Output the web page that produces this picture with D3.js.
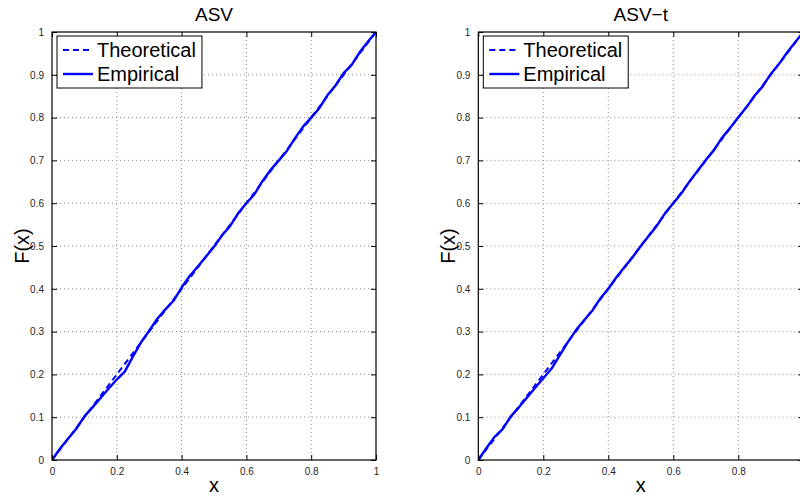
<!DOCTYPE html>
<html>
<head>
<meta charset="utf-8">
<script src="https://cdn.jsdelivr.net/npm/d3@7"></script>
<style>
  body { margin: 0; background: #fff; }
  svg { display: block; font-family: "Liberation Sans", Arial, sans-serif; }
</style>
</head>
<body>
<svg width="800" height="498"></svg>
<script>
// DATA

const X_TICKS = [0, 0.2, 0.4, 0.6, 0.8, 1];
const Y_TICKS = [0, 0.1, 0.2, 0.3, 0.4, 0.5, 0.6, 0.7, 0.8, 0.9, 1];
const LEGEND_LABELS = ["Theoretical", "Empirical"];

// theoretical CDF (dashed) sampled points
const THEO_X = [0, 0.1, 0.2, 0.3, 0.4, 0.5, 0.6, 0.7, 0.8, 0.9, 1];
const THEO_Y = [0, 0.1, 0.2, 0.3, 0.4, 0.5, 0.6, 0.7, 0.8, 0.9, 1];

// empirical CDF (solid)
const EMP_X = [0, 0.025, 0.05, 0.075, 0.1, 0.125, 0.15, 0.175, 0.2, 0.225, 0.25, 0.275, 0.3, 0.325,
    0.35, 0.375, 0.4, 0.425, 0.45, 0.475, 0.5, 0.525, 0.55, 0.575, 0.6, 0.625, 0.65, 0.675, 0.7,
    0.725, 0.75, 0.775, 0.8, 0.825, 0.85, 0.875, 0.9, 0.925, 0.95, 0.975, 1];
const ASV_EMP_Y = [0, 0.027, 0.05, 0.073, 0.102, 0.123, 0.145, 0.167, 0.188, 0.207, 0.242, 0.275, 0.302, 0.33,
    0.352, 0.372, 0.403, 0.43, 0.452, 0.475, 0.498, 0.525, 0.547, 0.577, 0.6, 0.621, 0.652, 0.678, 0.7,
    0.722, 0.752, 0.779, 0.8, 0.822, 0.852, 0.875, 0.904, 0.923, 0.953, 0.977, 1];
const ASVT_EMP_Y = [0, 0.028, 0.054, 0.072, 0.102, 0.123, 0.146, 0.169, 0.191, 0.213, 0.244, 0.275, 0.303, 0.326,
    0.348, 0.377, 0.4, 0.427, 0.451, 0.474, 0.5, 0.524, 0.548, 0.577, 0.6, 0.623, 0.651, 0.676, 0.701,
    0.724, 0.753, 0.776, 0.801, 0.824, 0.851, 0.873, 0.902, 0.925, 0.952, 0.976, 1];

const PANELS = [
    { title: "ASV", left: 52, right: 376, empY: ASV_EMP_Y },
    { title: "ASV\u2212t", left: 478.3, right: 803.3, empY: ASVT_EMP_Y }
];

const WIDTH = 800;
const TOP = 32;
const BOTTOM = 460;
const BLUE = "#0000ff";

const svg = d3.select("svg");

function pairs(xs, ys) {
    return xs.map((x, i) => [x, ys[i]]);
}

PANELS.forEach((panel, idx) => {
    const xScale = d3.scaleLinear().domain([0, 1]).range([panel.left, panel.right]);
    const yScale = d3.scaleLinear().domain([0, 1]).range([BOTTOM, TOP]);
    const g = svg.append("g");

    // clip for data lines
    const clipId = "clip" + idx;
    svg.append("clipPath").attr("id", clipId)
        .append("rect")
        .attr("x", panel.left).attr("y", TOP)
        .attr("width", panel.right - panel.left).attr("height", BOTTOM - TOP);

    // grid
    g.selectAll(".vgrid").data(X_TICKS.slice(1, -1)).enter().append("line")
        .attr("x1", d => xScale(d)).attr("x2", d => xScale(d))
        .attr("y1", TOP).attr("y2", BOTTOM)
        .style("stroke", "#8c8c8c").style("stroke-width", 1)
        .style("stroke-dasharray", "1,3");
    g.selectAll(".hgrid").data(Y_TICKS.slice(1, -1)).enter().append("line")
        .attr("x1", panel.left).attr("x2", panel.right)
        .attr("y1", d => yScale(d)).attr("y2", d => yScale(d))
        .style("stroke", "#8c8c8c").style("stroke-width", 1)
        .style("stroke-dasharray", "1,3");

    const line = d3.line().x(d => xScale(d[0])).y(d => yScale(d[1]));

    const lines = g.append("g").attr("clip-path", `url(#${clipId})`);
    lines.append("path")
        .attr("d", line(pairs(THEO_X, THEO_Y)))
        .style("fill", "none").style("stroke", BLUE)
        .style("stroke-width", 2).style("stroke-dasharray", "6,4");
    lines.append("path")
        .attr("d", line(pairs(EMP_X, panel.empY)))
        .style("fill", "none").style("stroke", BLUE)
        .style("stroke-width", 2.4).style("stroke-linejoin", "round");

    // axes: ticks inward on all four sides
    // labels that would fall past the page edge are not shown (as in the reference)
    const tickLen = 5;
    const axisBottom = d3.axisBottom(xScale).tickValues(X_TICKS).tickSize(-tickLen).tickPadding(8)
        .tickFormat(d => xScale(d) > WIDTH - 4 ? "" : String(d));
    const axisTop = d3.axisTop(xScale).tickValues(X_TICKS).tickSize(-tickLen).tickFormat("");
    const axisLeft = d3.axisLeft(yScale).tickValues(Y_TICKS).tickSize(-tickLen).tickPadding(8)
        .tickFormat(d => String(d));
    const axisRight = d3.axisRight(yScale).tickValues(Y_TICKS).tickSize(-tickLen).tickFormat("");

    const styleAxis = sel => {
        sel.select(".domain").remove();
        sel.selectAll(".tick line").style("stroke", "#000").style("stroke-width", 1);
        sel.selectAll(".tick text").style("font-size", "10px").style("fill", "#262626")
            .style("font-family", '"Liberation Sans", Arial, sans-serif');
    };

    g.append("g").attr("transform", `translate(0,${BOTTOM})`).call(axisBottom).call(styleAxis);
    g.append("g").attr("transform", `translate(0,${TOP})`).call(axisTop).call(styleAxis);
    g.append("g").attr("transform", `translate(${panel.left},0)`).call(axisLeft).call(styleAxis);
    g.append("g").attr("transform", `translate(${panel.right},0)`).call(axisRight).call(styleAxis);

    // box
    g.append("rect")
        .attr("x", panel.left).attr("y", TOP)
        .attr("width", panel.right - panel.left).attr("height", BOTTOM - TOP)
        .style("fill", "none").style("stroke", "#000").style("stroke-width", 1.2);

    // title and labels
    const midX = (panel.left + panel.right) / 2;
    g.append("text").text(panel.title)
        .attr("x", midX).attr("y", 21)
        .style("text-anchor", "middle").style("font-size", "19px").style("fill", "#000");
    g.append("text").text("x")
        .attr("x", midX).attr("y", 492)
        .style("text-anchor", "middle").style("font-size", "20px").style("fill", "#000");
    g.append("text").text("F(x)")
        .attr("transform", `translate(${panel.left - 23},${(TOP + BOTTOM) / 2}) rotate(-90)`)
        .style("text-anchor", "middle").style("font-size", "20px").style("fill", "#000");

    // legend
    const lx = panel.left + 5, ly = 36;
    const legend = g.append("g");
    const box = legend.append("rect")
        .attr("x", lx).attr("y", ly).attr("height", 52)
        .style("fill", "#fff").style("stroke", "#000").style("stroke-width", 1);
    const entries = legend.selectAll(".entry").data(LEGEND_LABELS).enter().append("g");
    entries.append("line")
        .attr("x1", lx + 6).attr("x2", lx + 36)
        .attr("y1", (d, i) => ly + 14 + i * 24).attr("y2", (d, i) => ly + 14 + i * 24)
        .style("stroke", BLUE)
        .style("stroke-width", (d, i) => i === 0 ? 2 : 2.4)
        .style("stroke-dasharray", (d, i) => i === 0 ? "6,4" : null);
    const texts = entries.append("text").text(d => d)
        .attr("x", lx + 40).attr("y", (d, i) => ly + 21 + i * 24)
        .style("font-size", "20px").style("fill", "#000");
    let maxW = 0;
    texts.each(function () { maxW = Math.max(maxW, this.getComputedTextLength()); });
    box.attr("width", 40 + maxW + 6);
});
</script>
</body>
</html>
